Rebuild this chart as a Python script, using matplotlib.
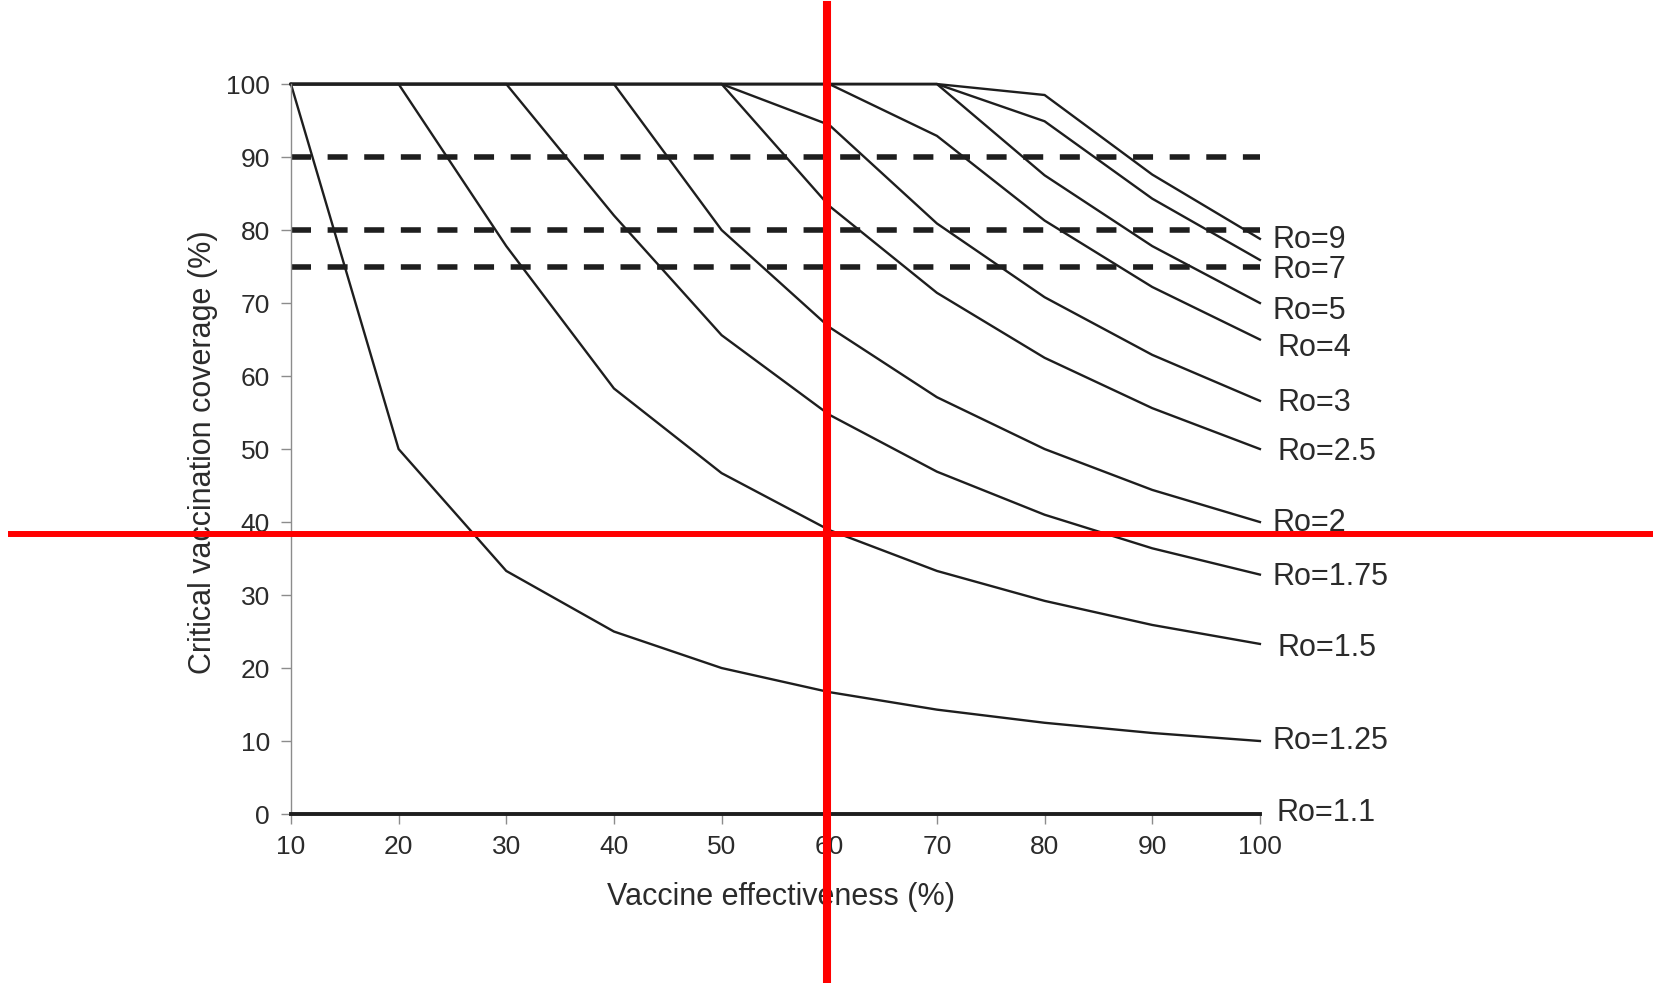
import matplotlib
matplotlib.use("Agg")
import matplotlib.pyplot as plt

plt.rcParams["font.family"] = ["Liberation Sans", "DejaVu Sans"]

# vaccine effectiveness (%) on the x axis
effectiveness = [10, 20, 30, 40, 50, 60, 70, 80, 90, 100]

# critical vaccination coverage (%)
cov_r1_1 = [0, 0, 0, 0, 0, 0, 0, 0, 0, 0]
cov_r1_25 = [100, 50, 33.3, 25, 20, 16.7, 14.3, 12.5, 11.1, 10]
cov_r1_5 = [100, 100, 77.8, 58.3, 46.7, 38.9, 33.3, 29.2, 25.9, 23.3]
cov_r1_75 = [100, 100, 100, 82, 65.6, 54.7, 46.9, 41, 36.4, 32.8]
cov_r2 = [100, 100, 100, 100, 80, 66.7, 57.1, 50, 44.4, 40]
cov_r2_5 = [100, 100, 100, 100, 100, 83.3, 71.4, 62.5, 55.6, 50]
cov_r3 = [100, 100, 100, 100, 100, 94.4, 80.9, 70.8, 62.9, 56.6]
cov_r4 = [100, 100, 100, 100, 100, 100, 92.9, 81.3, 72.2, 65]
cov_r5 = [100, 100, 100, 100, 100, 100, 100, 87.5, 77.8, 70]
cov_r7 = [100, 100, 100, 100, 100, 100, 100, 94.9, 84.3, 75.9]
cov_r9 = [100, 100, 100, 100, 100, 100, 100, 98.5, 87.6, 78.8]

curves = [cov_r1_25, cov_r1_5, cov_r1_75, cov_r2, cov_r2_5,
          cov_r3, cov_r4, cov_r5, cov_r7, cov_r9]

labels = ["Ro=9", "Ro=7", "Ro=5", "Ro=4", "Ro=3", "Ro=2.5", "Ro=2",
          "Ro=1.75", "Ro=1.5", "Ro=1.25", "Ro=1.1"]
label_y = [78.6, 74.5, 68.9, 63.9, 56.3, 49.6, 39.9, 32.5, 22.7, 10.0, 0.1]
label_x = [101.2, 101.2, 101.2, 101.6, 101.6, 101.6, 101.2, 101.2, 101.6, 101.2, 101.5]

# target coverage levels (dashed)
targets = [90, 80, 75]

# red cross-hair
cross_x = 59.75
cross_y = 38.3

text_col = "#2b2b2b"
grey = "#8c8c8c"

fig = plt.figure(figsize=(16.53, 9.83), dpi=100)
ax = fig.add_axes([0.176, 0.1719, 0.5862, 0.7426])

for cov in curves:
    ax.plot(effectiveness, cov, color="#1e1e1e", lw=1.7, clip_on=False,
            solid_joinstyle="miter")
ax.plot(effectiveness, cov_r1_1, color="#1e1e1e", lw=2.8, clip_on=False,
        zorder=4)

for t in targets:
    ax.plot([effectiveness[0], effectiveness[-1]], [t, t], color="#1e1e1e",
            lw=4, dashes=(3.6, 2.99), clip_on=False)

for lab, lx, ly in zip(labels, label_x, label_y):
    ax.text(lx, ly, lab, fontsize=22, color=text_col, va="center", ha="left")

ax.set_xlim(10, 100)
ax.set_ylim(0, 100)
ax.set_xticks(effectiveness)
ax.set_yticks(range(0, 101, 10))
ax.tick_params(axis="both", direction="out", length=7.2, width=1,
               color=grey, labelsize=19, labelcolor=text_col)
ax.tick_params(axis="x", pad=8)
ax.tick_params(axis="y", pad=8)

for s in ["top", "right"]:
    ax.spines[s].set_visible(False)
for s in ["left", "bottom"]:
    ax.spines[s].set_color(grey)
    ax.spines[s].set_linewidth(1)

ax.set_xlabel("Vaccine effectiveness (%)", fontsize=22, color=text_col)
ax.set_ylabel("Critical vaccination coverage (%)", fontsize=22, color=text_col)
ax.xaxis.set_label_coords(0.5057, -0.113)
ax.xaxis.label.set_va("center")
ax.yaxis.set_label_coords(-0.0908, 0.496)
ax.yaxis.label.set_va("center")

# red cross-hair running past the axes
ax.axvline(cross_x, ymin=-0.232, ymax=1.108, color="#ff0000", lw=5.8,
           clip_on=False, zorder=10)
ax.axhline(cross_y, xmin=-0.2894, xmax=1.41, color="#ff0000", lw=4.3,
           clip_on=False, zorder=10)

fig.savefig("out.png", dpi=100)
